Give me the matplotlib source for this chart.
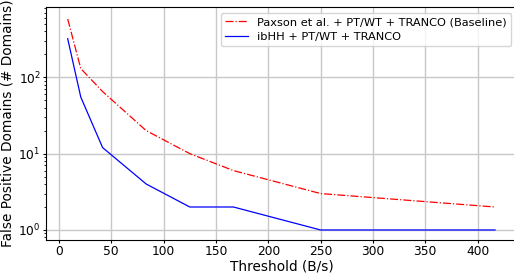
import matplotlib
matplotlib.use("Agg")
import matplotlib.pyplot as plt

thresholds = [8.33, 20.83, 41.67, 83.33, 125, 166.67, 250, 416.67]
baseline_fp = [580, 130, 65, 20, 10, 6, 3, 2]
ibhh_fp = [320, 55, 12, 4, 2, 2, 1, 1]

fig = plt.figure(figsize=(5.14, 2.73), dpi=100)
ax = fig.add_axes([0.0895, 0.121, 0.916, 0.853])

ax.plot(thresholds, baseline_fp, "-.", color="red", lw=0.9,
        label="Paxson et al. + PT/WT + TRANCO (Baseline)")
ax.plot(thresholds, ibhh_fp, "-", color="blue", lw=0.9,
        label="ibHH + PT/WT + TRANCO")
ax.set_yscale("log")
ax.set_ylim(0.74, 830)
ax.set_xlim(-12.4, 437.5)
ax.set_xticks([0, 50, 100, 150, 200, 250, 300, 350, 400])
ax.grid(True, color="#c8c8c8", lw=1)
ax.tick_params(labelsize=8.8, length=2.5, pad=1.3)
ax.tick_params(which="minor", length=1.5)
ax.set_xlabel("Threshold (B/s)", fontsize=9.8, labelpad=1)
ax.set_ylabel("False Positive Domains (# Domains)", fontsize=9.8, labelpad=3)
ax.legend(fontsize=8.2, loc="upper right", borderaxespad=0.5, labelspacing=0.4)

fig.savefig("out.png", dpi=100)
